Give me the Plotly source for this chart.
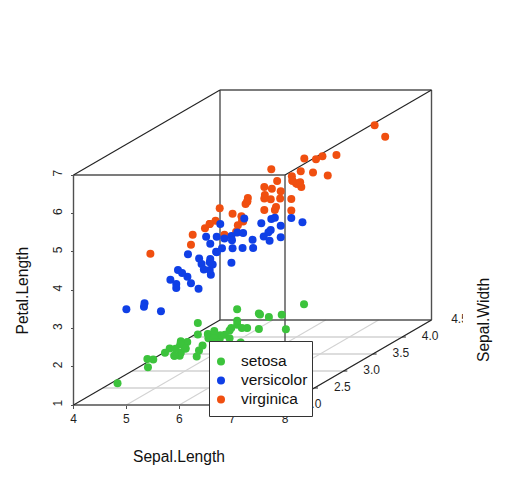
import plotly.graph_objects as go

# ---- iris values ----
setosa_sl = [5.1,4.9,4.7,4.6,5.0,5.4,4.6,5.0,4.4,4.9,5.4,4.8,4.8,4.3,5.8,5.7,5.4,5.1,5.7,5.1,5.4,5.1,4.6,5.1,4.8,5.0,5.0,5.2,5.2,4.7,4.8,5.4,5.2,5.5,4.9,5.0,5.5,4.9,4.4,5.1,5.0,4.5,4.4,5.0,5.1,4.8,5.1,4.6,5.3,5.0]
setosa_sw = [3.5,3.0,3.2,3.1,3.6,3.9,3.4,3.4,2.9,3.1,3.7,3.4,3.0,3.0,4.0,4.4,3.9,3.5,3.8,3.8,3.4,3.7,3.6,3.3,3.4,3.0,3.4,3.5,3.4,3.2,3.1,3.4,4.1,4.2,3.1,3.2,3.5,3.6,3.0,3.4,3.5,2.3,3.2,3.5,3.8,3.0,3.8,3.2,3.7,3.3]
setosa_pl = [1.4,1.4,1.3,1.5,1.4,1.7,1.4,1.5,1.4,1.5,1.5,1.6,1.4,1.1,1.2,1.5,1.3,1.4,1.7,1.5,1.7,1.5,1.0,1.7,1.9,1.6,1.6,1.5,1.4,1.6,1.6,1.5,1.5,1.4,1.5,1.2,1.3,1.4,1.3,1.5,1.3,1.3,1.3,1.6,1.9,1.4,1.6,1.4,1.5,1.4]
versicolor_sl = [7.0,6.4,6.9,5.5,6.5,5.7,6.3,4.9,6.6,5.2,5.0,5.9,6.0,6.1,5.6,6.7,5.6,5.8,6.2,5.6,5.9,6.1,6.3,6.1,6.4,6.6,6.8,6.7,6.0,5.7,5.5,5.5,5.8,6.0,5.4,6.0,6.7,6.3,5.6,5.5,5.5,6.1,5.8,5.0,5.6,5.7,5.7,6.2,5.1,5.7]
versicolor_sw = [3.2,3.2,3.1,2.3,2.8,2.8,3.3,2.4,2.9,2.7,2.0,3.0,2.2,2.9,2.9,3.1,3.0,2.7,2.2,2.5,3.2,2.8,2.5,2.8,2.9,3.0,2.8,3.0,2.9,2.6,2.4,2.4,2.7,2.7,3.0,3.4,3.1,2.3,3.0,2.5,2.6,3.0,2.6,2.3,2.7,3.0,2.9,2.9,2.5,2.8]
versicolor_pl = [4.7,4.5,4.9,4.0,4.6,4.5,4.7,3.3,4.6,3.9,3.5,4.2,4.0,4.7,3.6,4.4,4.5,4.1,4.5,3.9,4.8,4.0,4.9,4.7,4.3,4.4,4.8,5.0,4.5,3.5,3.8,3.7,3.9,5.1,4.5,4.5,4.7,4.4,4.1,4.0,4.4,4.6,4.0,3.3,4.2,4.2,4.2,4.3,3.0,4.1]
virginica_sl = [6.3,5.8,7.1,6.3,6.5,7.6,4.9,7.3,6.7,7.2,6.5,6.4,6.8,5.7,5.8,6.4,6.5,7.7,7.7,6.0,6.9,5.6,7.7,6.3,6.7,7.2,6.2,6.1,6.4,7.2,7.4,7.9,6.4,6.3,6.1,7.7,6.3,6.4,6.0,6.9,6.7,6.9,5.8,6.8,6.7,6.7,6.3,6.5,6.2,5.9]
virginica_sw = [3.3,2.7,3.0,2.9,3.0,3.0,2.5,2.9,2.5,3.6,3.2,2.7,3.0,2.5,2.8,3.2,3.0,3.8,2.6,2.2,3.2,2.8,2.8,2.7,3.3,3.2,2.8,3.0,2.8,3.0,2.8,3.8,2.8,2.8,2.6,3.0,3.4,3.1,3.0,3.1,3.1,3.1,2.7,3.2,3.3,3.0,2.5,3.0,3.4,3.0]
virginica_pl = [6.0,5.1,5.9,5.6,5.8,6.6,4.5,6.3,5.8,6.1,5.1,5.3,5.5,5.0,5.1,5.3,5.5,6.7,6.9,5.0,5.7,4.9,6.7,4.9,5.7,6.0,4.8,4.9,5.6,5.8,6.1,6.4,5.6,5.1,5.6,6.1,5.6,5.5,4.8,5.4,5.6,5.1,5.1,5.9,5.7,5.2,5.0,5.2,5.4,5.1]
species = ["setosa", "versicolor", "virginica"]
sl_ticks = [4, 5, 6, 7, 8]
pl_ticks = [1, 2, 3, 4, 5, 6, 7]
sw_ticks = [2.0, 2.5, 3.0, 3.5, 4.0, 4.5]

# ---- layout constants ----
W, H = 522, 500
X0_PX, X1_PX = 73.5, 285.0      # Sepal.Length 4..8
Y0_PX, Y1_PX = 405.0, 175.0     # Petal.Length 1..7
PX_PER_SL = (X1_PX - X0_PX) / 4
PX_PER_PL = (Y0_PX - Y1_PX) / 6
SHEAR_X = (146.5 / 2.5) / PX_PER_SL   # Sepal.Length units per Sepal.Width unit
SHEAR_Y = (85.0 / 2.5) / PX_PER_PL    # Petal.Length units per Sepal.Width unit
SW0 = 2.0
colors = {"setosa": "#3cc33c", "versicolor": "#0f3fe6", "virginica": "#f04f10"}
EDGE = "#505050"
DIAG = "#222222"
GRID = "#d2d2d2"
TICK = "#1f1f1f"


def px(sl, sw):
    return sl + (sw - SW0) * SHEAR_X


def py(pl, sw):
    return pl + (sw - SW0) * SHEAR_Y


def seg(p, q):
    """p, q = (Sepal.Length, Sepal.Width, Petal.Length)"""
    return [px(p[0], p[1]), px(q[0], q[1]), None], [py(p[2], p[1]), py(q[2], q[1]), None]


def lines(segments, color, width):
    xs, ys = [], []
    for p, q in segments:
        a, b = seg(p, q)
        xs += a
        ys += b
    return go.Scatter(x=xs, y=ys, mode="lines", line=dict(color=color, width=width),
                      showlegend=False, hoverinfo="skip")


fig = go.Figure()

# floor grid
fig.add_trace(lines([((s, 2.0, 1), (s, 4.5, 1)) for s in sl_ticks[1:]], GRID, 1.1))
fig.add_trace(lines([((4, w, 1), (8, w, 1)) for w in sw_ticks[1:-1]], GRID, 1.5))

# box: rectangles of the front and back faces, then the receding edges
faces = [((4, 2, 1), (8, 2, 1)), ((8, 2, 1), (8, 2, 7)), ((8, 2, 7), (4, 2, 7)), ((4, 2, 7), (4, 2, 1)),
         ((4, 4.5, 1), (8, 4.5, 1)), ((8, 4.5, 1), (8, 4.5, 7)), ((8, 4.5, 7), (4, 4.5, 7)), ((4, 4.5, 7), (4, 4.5, 1))]
receding = [((4, 2, 1), (4, 4.5, 1)), ((8, 2, 1), (8, 4.5, 1)), ((4, 2, 7), (4, 4.5, 7)), ((8, 2, 7), (8, 4.5, 7))]
fig.add_trace(lines(faces, EDGE, 1.4))
fig.add_trace(lines(receding, DIAG, 1.1))

# Sepal.Width ticks and labels on the floor's right edge
fig.add_trace(lines([((8, w, 1), (8.07, w, 1)) for w in sw_ticks[:-1]], DIAG, 1))
fig.add_trace(go.Scatter(
    x=[px(8 + 28 / PX_PER_SL, w) for w in sw_ticks],
    y=[py(1, w) for w in sw_ticks],
    mode="text", text=[f"{w:.1f}" for w in sw_ticks], textposition="middle center",
    textfont=dict(family="Liberation Sans", size=12, color=TICK),
    showlegend=False, hoverinfo="skip"))

# points
series = [("virginica", virginica_sl, virginica_sw, virginica_pl),
          ("versicolor", versicolor_sl, versicolor_sw, versicolor_pl),
          ("setosa", setosa_sl, setosa_sw, setosa_pl)]
for name, sl, sw, pl in series:
    fig.add_trace(go.Scatter(
        x=[px(a, b) for a, b in zip(sl, sw)],
        y=[py(c, b) for c, b in zip(pl, sw)],
        mode="markers",
        name=f'<span style="font-size:15.5px">{name}</span>',
        marker=dict(color=colors[name], size=8, line=dict(width=0)),
        legendrank={"setosa": 1, "versicolor": 2, "virginica": 3}[name]))

title_font = dict(family="Liberation Sans", size=15.6, color="#111111")
annotations = [
    dict(text="Sepal.Length", x=179 / W, y=1 - 456 / H, textangle=0),
    dict(text="Petal.Length", x=22 / W, y=1 - 290.5 / H, textangle=-90),
    dict(text="Sepal.Width", x=483 / W, y=1 - 320 / H, textangle=-90),
]
for a in annotations:
    a.update(xref="paper", yref="paper", showarrow=False, font=title_font,
             xanchor="center", yanchor="middle")

fig.update_layout(
    width=W, height=H, autosize=False,
    margin=dict(l=0, r=0, t=0, b=0),
    paper_bgcolor="white", plot_bgcolor="white",
    xaxis=dict(range=[4 - X0_PX / PX_PER_SL, 4 + (W - X0_PX) / PX_PER_SL], domain=[0, 1],
               anchor="free", position=1 - Y0_PX / H, showgrid=False, zeroline=False, showline=False,
               tickmode="array", tickvals=sl_ticks, ticks="outside", ticklen=3, tickcolor=EDGE,
               tickfont=dict(family="Liberation Sans", size=12, color=TICK)),
    yaxis=dict(range=[1 - (H - Y0_PX) / PX_PER_PL, 1 + Y0_PX / PX_PER_PL], domain=[0, 1],
               anchor="free", position=X0_PX / W, showgrid=False, zeroline=False, showline=False,
               tickmode="array", tickvals=pl_ticks, ticks="outside", ticklen=3, tickcolor=EDGE,
               tickangle=-90, ticklabelstandoff=4,
               tickfont=dict(family="Liberation Sans", size=12, color=TICK)),
    legend=dict(x=201 / W, y=1 - 347 / H, xanchor="left", yanchor="top",
                bgcolor="rgba(0,0,0,0)", borderwidth=0,
                font=dict(family="Liberation Sans", size=12, color="#111111"),
                itemwidth=30, tracegroupgap=0, traceorder="normal"),
    shapes=[
        dict(type="rect", xref="paper", yref="paper", x0=463 / W, x1=474 / W,
             y0=1 - 330 / H, y1=1 - 308 / H, fillcolor="white", line=dict(width=0), layer="above"),
        dict(type="rect", xref="paper", yref="paper", x0=209.5 / W, x1=312.5 / W,
             y0=1 - 416.5 / H, y1=1 - 341.5 / H, fillcolor="white",
             line=dict(width=1, color="#333333"), layer="above"),
    ],
    annotations=annotations,
    showlegend=True,
)
fig.write_html("out.html", config=dict(displayModeBar=False),
               post_script="document.body.style.margin='0';")
